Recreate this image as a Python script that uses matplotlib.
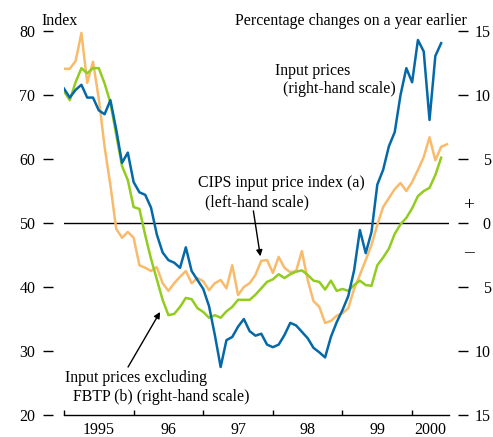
import numpy as np
import matplotlib
matplotlib.use('Agg')
import matplotlib.pyplot as plt
from matplotlib.ticker import FixedLocator, FuncFormatter, NullFormatter

plt.rcParams['font.family'] = ['Liberation Serif', 'DejaVu Serif']

# Monthly series from January 1995
start_year = 1995

# CIPS input price index (a), left-hand scale
cips_index = [74.1, 74.1, 75.3, 79.7, 71.9, 75.2, 69.4, 61.9, 55.9, 49.1,
              47.7, 48.6, 47.7, 43.4, 43.0, 42.5, 43.1, 40.6, 39.4, 40.6,
              41.6, 42.5, 40.6, 41.4, 40.9, 39.5, 40.6, 41.1, 39.8, 43.4,
              38.75, 40.0, 40.6, 41.9, 44.1, 44.2, 42.2, 44.7, 43.0, 42.3,
              42.5, 45.6, 41.1, 37.8, 36.9, 34.4, 34.7, 35.5, 35.9, 36.7,
              39.7, 41.9, 44.2, 46.6, 49.7, 52.5, 53.9, 55.3, 56.25, 55.0,
              56.4, 58.3, 60.3, 63.4, 59.8, 61.9, 62.3]

# Input prices, % change on a year earlier, right-hand scale
input_prices = [10.5, 9.8, 10.4, 10.8, 9.8, 9.8, 8.8, 8.5, 9.6, 7.3,
                4.7, 5.5, 3.2, 2.4, 2.2, 1.2, -0.9, -2.3, -2.9, -3.1,
                -3.5, -1.9, -3.75, -4.45, -5.15, -6.5, -8.75, -11.25, -9.15, -8.9,
                -8.1, -7.5, -8.45, -8.8, -8.65, -9.5, -9.7, -9.5, -8.75, -7.8,
                -8.0, -8.5, -9.0, -9.75, -10.1, -10.5, -8.9, -7.75, -6.8, -5.7,
                -3.7, -0.55, -2.35, -0.7, 3.0, 4.15, 6.0, 7.1, 10.0, 12.1,
                11.0, 14.3, 13.4, 8.05, 13.05, 14.05]

# Input prices excluding FBTP (b), right-hand scale
input_ex_fbtp = [10.3, 9.6, 11.0, 12.1, 11.7, 12.1, 12.1, 10.9, 9.4, 6.9,
                 4.45, 3.35, 1.25, 1.1, -0.95, -2.8, -4.4, -6.0, -7.2, -7.1,
                 -6.55, -5.85, -5.95, -6.65, -6.95, -7.4, -7.2, -7.4, -6.9, -6.55,
                 -6.0, -6.0, -6.0, -5.6, -5.1, -4.6, -4.4, -4.0, -4.3, -4.0,
                 -3.8, -3.7, -4.05, -4.5, -4.6, -5.2, -4.5, -5.3, -5.15, -5.3,
                 -4.85, -4.5, -4.85, -4.9, -3.3, -2.7, -2.0, -0.85, -0.1, 0.4,
                 1.15, 2.1, 2.5, 2.75, 3.75, 5.1]

year_ticks = [1995, 1996, 1997, 1998, 1999, 2000]
year_labels = ['1995', '96', '97', '98', '99', '2000']
left_ticks = [20, 30, 40, 50, 60, 70, 80]
right_ticks = [-15, -10, -5, 0, 5, 10, 15]


def months(series):
    return start_year + np.arange(len(series)) / 12.0


blue = '#0569a8'
orange = '#f8bb6c'
green = '#92cc1f'
fs = 11.4
tfs = 11.5
lw = 1.8

fig = plt.figure(figsize=(4.93, 4.37), dpi=100)
ax = fig.add_axes([0.1298, 0.0503, 0.781, 0.8787])
ax2 = ax.twinx()

x_end = 2000.53
ax.set_xlim(year_ticks[0], x_end)
ax.set_ylim(20, 80)
ax2.set_ylim(-15, 15)

ax.axhline(50, color='black', lw=1.0, zorder=1)
ax.plot(months(cips_index), cips_index, color=orange, lw=lw, zorder=3)
ax2.plot(months(input_ex_fbtp), input_ex_fbtp, color=green, lw=lw)
ax2.plot(months(input_prices), input_prices, color=blue, lw=lw)

for a in (ax, ax2):
    for s in ('top', 'right', 'left'):
        a.spines[s].set_visible(False)
ax2.spines['bottom'].set_visible(False)
ax.spines['bottom'].set_linewidth(1.0)

# left scale: detached dashes
ax.spines['left'].set_position(('outward', 7.9))
ax.set_yticks(left_ticks)
ax.tick_params(axis='y', direction='out', length=7.2, width=1.0, pad=5.5, labelsize=tfs)

# right scale: absolute values either side of zero, right-aligned
ax2.spines['right'].set_position(('outward', 6.5))
ax2.set_yticks(right_ticks)
ax2.yaxis.set_major_formatter(FuncFormatter(lambda v, p: f'{abs(v):g}'))
ax2.tick_params(axis='y', direction='out', length=7.2, width=1.0, pad=16.3, labelsize=tfs)
for lab in ax2.get_yticklabels():
    lab.set_horizontalalignment('right')

# year boundaries as ticks, labels centred within each year
ax.xaxis.set_major_locator(FixedLocator(year_ticks))
ax.xaxis.set_major_formatter(NullFormatter())
mids = [y + 0.5 for y in year_ticks[:-1]] + [(year_ticks[-1] + x_end) / 2]
ax.xaxis.set_minor_locator(FixedLocator(mids))
ax.set_xticklabels(year_labels, minor=True)
ax.tick_params(axis='x', which='major', direction='in', length=3.6, width=1.0)
ax.tick_params(axis='x', which='minor', length=0, pad=5, labelsize=tfs)

fig.text(41 / 493, 1 - 21 / 437, 'Index', fontsize=tfs, va='center', ha='left')
fig.text(467 / 493, 1 - 21 / 437, 'Percentage changes on a year earlier',
         fontsize=fs, va='center', ha='right')
fig.text(469 / 493, 1 - 206 / 437, '+', fontsize=14, va='center', ha='center')
fig.text(469 / 493, 1 - 253 / 437, '\u2013', fontsize=14, va='center', ha='center')

ax.text(1998.03, 73.75, 'Input prices', fontsize=fs, va='center')
ax.text(1998.15, 70.9, '(right-hand scale)', fontsize=fs, va='center')
ax.text(1996.93, 56.25, 'CIPS input price index (a)', fontsize=fs, va='center')
ax.text(1997.03, 53.3, '(left-hand scale)', fontsize=fs, va='center')
ax.text(1995.01, 25.8, 'Input prices excluding', fontsize=fs, va='center')
ax.text(1995.13, 22.8, 'FBTP (b) (right-hand scale)', fontsize=fs, va='center')

arrow = dict(arrowstyle='-|>', color='black', lw=1.0, mutation_scale=9, shrinkA=0, shrinkB=0)
ax.annotate('', xy=(1997.82, 44.8), xytext=(1997.72, 51.9), arrowprops=arrow)
ax.annotate('', xy=(1996.38, 36.1), xytext=(1995.92, 27.5), arrowprops=arrow)

fig.savefig('out.png', dpi=100)
